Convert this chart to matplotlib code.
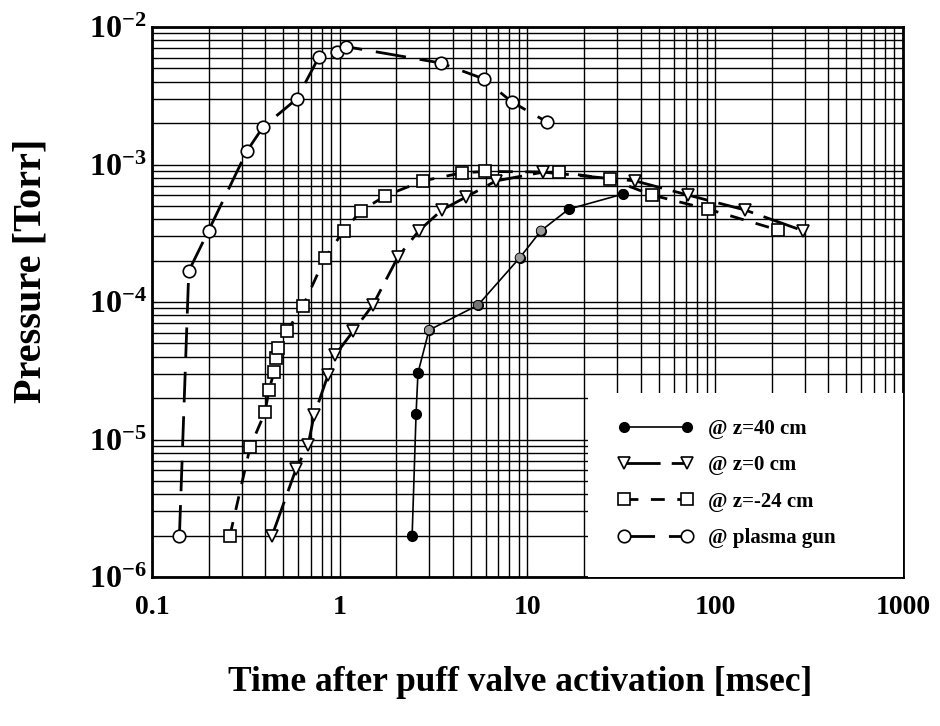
# pressure vs time after puff valve, 4 probe positions
import numpy as np
import matplotlib
matplotlib.use("Agg")
import matplotlib.pyplot as plt
from matplotlib.patches import Rectangle
from matplotlib.ticker import LogLocator, FixedLocator, NullFormatter

plt.rcParams['font.family'] = ['Liberation Serif', 'DejaVu Serif']
plt.rcParams['mathtext.fontset'] = 'custom'
plt.rcParams['mathtext.rm'] = 'Liberation Serif:bold'
plt.rcParams['mathtext.bf'] = 'Liberation Serif:bold'

# ---- data ----
z40_t = [2.43, 2.55, 2.61, 2.99, 5.45, 9.1, 11.8, 16.6, 32.3]
z40_p = [2.0e-6, 1.53e-5, 3.05e-5, 6.25e-5, 9.5e-5, 2.1e-4, 3.3e-4, 4.74e-4, 6.1e-4]
z40_face = ['k', 'k', 'k', '0.6', '0.45', '0.6', '0.6', 'k', 'k']

z0_t = [0.436, 0.585, 0.678, 0.73, 0.866, 0.944, 1.18, 1.50, 2.04, 2.64,
        3.5, 4.7, 6.8, 12.1, 37.4, 71.6, 144, 293]
z0_p = [2.0e-6, 6.1e-6, 9.1e-6, 1.5e-5, 2.94e-5, 4.1e-5, 6.15e-5, 9.5e-5, 2.12e-4, 3.3e-4,
        4.67e-4, 5.8e-4, 7.6e-4, 8.8e-4, 7.6e-4, 6.0e-4, 4.67e-4, 3.3e-4]

zm24_t = [0.26, 0.333, 0.40, 0.42, 0.447, 0.455, 0.469, 0.524, 0.637, 0.834, 1.05,
          1.30, 1.74, 2.77, 4.48, 5.94, 14.7, 27.5, 46, 91.4, 216]
zm24_p = [2.0e-6, 8.8e-6, 1.58e-5, 2.3e-5, 3.1e-5, 3.9e-5, 4.6e-5, 6.15e-5, 9.35e-5, 2.09e-4, 3.3e-4,
          4.6e-4, 5.9e-4, 7.6e-4, 8.7e-4, 8.9e-4, 8.8e-4, 7.85e-4, 6.0e-4, 4.74e-4, 3.34e-4]

gun_t = [0.14, 0.157, 0.20, 0.32, 0.39, 0.59, 0.775, 0.97, 1.08, 3.46, 5.86, 8.26, 12.7]
gun_p = [2.0e-6, 1.68e-4, 3.3e-4, 1.25e-3, 1.87e-3, 3.0e-3, 6.05e-3, 6.6e-3, 7.2e-3,
         5.47e-3, 4.19e-3, 2.85e-3, 2.04e-3]

labels = ["@ z=40 cm", "@ z=0 cm", "@ z=-24 cm", "@ plasma gun"]
xticks = [0.1, 1, 10, 100, 1000]
xticklabels = ["0.1", "1", "10", "100", "1000"]
yticks = [1e-6, 1e-5, 1e-4, 1e-3, 1e-2]
yticklabels = [r"$\mathbf{10^{-6}}$", r"$\mathbf{10^{-5}}$", r"$\mathbf{10^{-4}}$",
               r"$\mathbf{10^{-3}}$", r"$\mathbf{10^{-2}}$"]

fig = plt.figure(figsize=(9.4, 7.26), dpi=100)
ax = fig.add_axes([0.1617, 0.2052, 0.7989, 0.7576])
ax.set_xscale('log')
ax.set_yscale('log')
ax.set_xlim(0.1, 1000)
ax.set_ylim(1e-6, 1e-2)

l1, = ax.plot(z40_t, z40_p, '-', color='k', lw=1.2, marker='o', ms=7,
              mfc='k', mec='k', zorder=4)
ax.scatter(z40_t, z40_p, s=45, c=z40_face, edgecolors='k', linewidths=0.6, zorder=5)
l2, = ax.plot(z0_t, z0_p, color='k', lw=2, dashes=(13, 4), marker='v', ms=9,
              mfc='white', mec='k', mew=1.2, zorder=4)
l3, = ax.plot(zm24_t, zm24_p, color='k', lw=2, dashes=(5, 4.5), marker='s', ms=8,
              mfc='white', mec='k', mew=1.2, zorder=4)
l4, = ax.plot(gun_t, gun_p, color='k', lw=2, dashes=(11, 5), marker='o', ms=9,
              mfc='white', mec='k', mew=1.2, zorder=4)

# graph paper grid
ax.xaxis.set_minor_locator(LogLocator(base=10, subs=np.arange(2, 10)))
ax.yaxis.set_minor_locator(LogLocator(base=10, subs=np.arange(2, 10)))
ax.xaxis.set_minor_formatter(NullFormatter())
ax.yaxis.set_minor_formatter(NullFormatter())
ax.grid(True, which='both', color='k', lw=1.0)
ax.xaxis.set_major_locator(FixedLocator(xticks))
ax.yaxis.set_major_locator(FixedLocator(yticks))
ax.set_xticklabels(xticklabels, fontsize=20, fontweight='bold')
ax.set_yticklabels(yticklabels, fontsize=23)
ax.tick_params(which='both', direction='in', top=False, right=False)
ax.tick_params(axis='x', which='major', pad=13)
ax.tick_params(axis='y', which='major', pad=4)
for s in ax.spines.values():
    s.set_linewidth(2)

# white legend area covering the grid
ax.add_patch(Rectangle((0.5806, 0.0), 0.4194, 0.3345, transform=ax.transAxes,
                       facecolor='white', edgecolor='none', zorder=3))
ax.legend([l1, l2, l3, l4], labels, loc='upper left', bbox_to_anchor=(0.6205, 0.287),
          frameon=False, numpoints=2, handlelength=3.6, handletextpad=0.7,
          labelspacing=0.78, borderpad=0, borderaxespad=0,
          prop={'family': 'Liberation Serif', 'weight': 'bold', 'size': 15})

ax.set_xlabel("Time after puff valve activation [msec]", fontsize=25.5, fontweight='bold')
ax.set_ylabel("Pressure [Torr]", fontsize=29, fontweight='bold')
ax.xaxis.set_label_coords(0.49, -0.162)
ax.yaxis.set_label_coords(-0.136, 0.556)

fig.savefig("out.png", dpi=100)
